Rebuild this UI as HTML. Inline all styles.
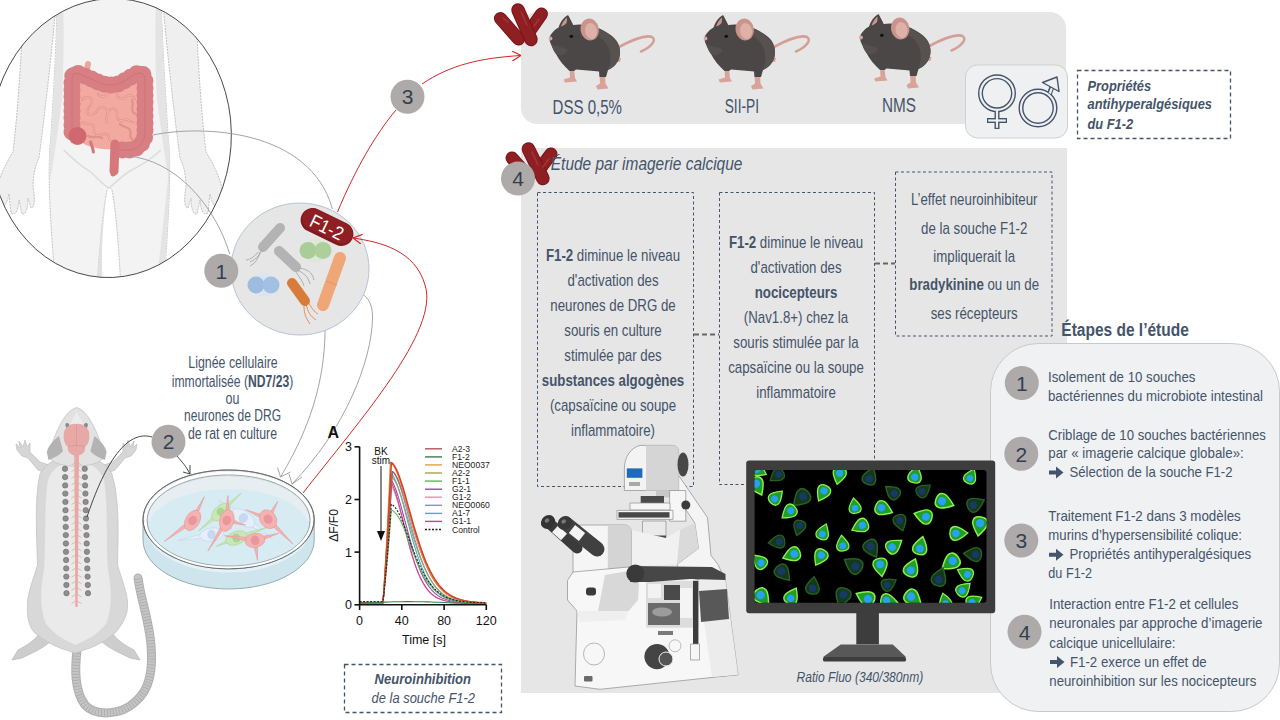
<!DOCTYPE html>
<html><head><meta charset="utf-8">
<style>
html,body{margin:0;padding:0;background:#fff;width:1280px;height:720px;overflow:hidden}
svg{display:block;font-family:"Liberation Sans",sans-serif}
.t{fill:#44546A}
.num{fill:#333F50;font-size:21px;text-anchor:middle}
.ctr{text-anchor:middle}
</style></head><body>
<svg width="1280" height="720" viewBox="0 0 1280 720">
<defs>
<marker id="arR" viewBox="0 0 10 10" refX="9" refY="5" markerWidth="10" markerHeight="10" markerUnits="userSpaceOnUse" orient="auto"><path d="M0,0 L9,5 L0,10" fill="none" stroke="#D42626" stroke-width="1.2"/></marker>
<marker id="arG" viewBox="0 0 10 10" refX="9" refY="5" markerWidth="10" markerHeight="10" markerUnits="userSpaceOnUse" orient="auto"><path d="M0,0 L9,5 L0,10" fill="none" stroke="#8a8a8a" stroke-width="1.2"/></marker>
<marker id="arK" viewBox="0 0 10 10" refX="9" refY="5" markerWidth="10" markerHeight="10" markerUnits="userSpaceOnUse" orient="auto"><path d="M0,0 L9,5 L0,10" fill="none" stroke="#333" stroke-width="1.2"/></marker>
</defs>


<!-- ===== HUMAN ===== -->
<clipPath id="hc"><ellipse cx="110.76" cy="138.06" rx="120.5" ry="139.58" transform="rotate(4 110.76 138.06)"/></clipPath>
<ellipse cx="110.76" cy="138.06" rx="120.5" ry="139.58" transform="rotate(4 110.76 138.06)" fill="#fff"/>
<g clip-path="url(#hc)">
  <!-- left arm -->
  <path d="M23,5 C22,50 18,110 13,152 C8,160 1,172 -3,188 L-1,206 C3,210 7,204 9,194 L11,213 C15,216 18,212 19,200 L22,214 C26,215 28,208 28,198 L31,208 C35,208 35,198 33,186 C33,176 35,166 39,158 C44,120 50,70 56,5 Z" fill="#EFEFEF" stroke="#C2C2C2" stroke-width="1" stroke-dasharray="2,1"/>
  <!-- right arm -->
  <path d="M196,5 C197,50 201,110 206,152 C211,160 218,172 222,188 L220,206 C216,210 212,204 210,194 L208,213 C204,216 201,212 200,200 L197,214 C193,215 191,208 191,198 L188,208 C184,208 184,198 186,186 C186,176 184,166 180,158 C175,120 169,70 163,5 Z" fill="#EFEFEF" stroke="#C2C2C2" stroke-width="1" stroke-dasharray="2,1"/>
  <!-- torso & legs -->
  <path d="M57,-5 C57,40 53,100 51,135 C47,170 50,220 56,290 L97,290 C99,250 103,210 107,190 C108,187 110,187 112,190 C116,210 119,250 121,290 L164,290 C168,220 172,170 168,135 C166,100 162,40 161,-5 Z" fill="#F3F3F3" stroke="#C2C2C2" stroke-width="1" stroke-dasharray="2,1"/>
  <path d="M57,-5 C57,40 53,100 51,135 C49,150 49,165 50,180 C54,160 58,130 62,100 C64,60 64,20 63,-5 Z" fill="#E4E4E4"/>
  <path d="M161,-5 C162,40 166,100 168,135 C170,150 170,165 169,180 C165,160 161,130 157,100 C155,60 155,20 156,-5 Z" fill="#E4E4E4"/>
  <path d="M97,290 C99,250 103,210 107,190 C104,215 100,250 103,290 Z" fill="#E0E0E0"/>
  <path d="M164,290 C168,220 170,190 169,170 C166,200 160,250 156,290 Z" fill="#E4E4E4"/>
  <path d="M63.7,150 C72,158 80,166 88,170 C96,176 102,184 108.7,188" fill="none" stroke="#DCDCDC" stroke-width="1.5"/>
  <path d="M161,150 C150,160 140,166 130,171 C122,176 116,182 109,188" fill="none" stroke="#DCDCDC" stroke-width="1.5"/>
  <!-- intestines -->
  <path d="M86,74 L88,64" stroke="#EFA59D" stroke-width="6" stroke-linecap="round"/>
  <path d="M76,82 C92,86 106,94 118,88 C128,82 134,78 140,80 C142,100 142,120 140,140 C134,148 126,150 116,149 C104,150 92,148 84,144 C76,136 74,118 74,104 C74,96 74,86 76,82 Z" fill="#F2A9A0"/>
  <g fill="none" stroke="#E0928B" stroke-width="2.2" stroke-linecap="round">
    <path d="M82,100 c4,-5 10,-3 10,2 c0,5 -6,6 -5,10 c1,4 8,3 10,-1 c2,-5 8,-5 10,0 c2,5 -3,8 0,11"/>
    <path d="M98,94 c3,4 8,3 10,0 c3,-4 8,-3 9,1 c1,4 6,5 9,2 c3,-3 7,-2 9,2"/>
    <path d="M82,122 c4,4 8,0 11,3 c3,4 -1,8 3,10 c4,2 7,-3 11,-1 c4,3 1,7 5,8"/>
    <path d="M110,110 c4,-3 8,1 7,5 c-1,4 3,7 7,5 c4,-2 6,3 10,2"/>
    <path d="M120,124 c3,4 8,2 10,6 c2,4 -2,7 2,9"/>
    <path d="M132,100 c3,5 -2,8 1,12 c3,4 6,1 7,6"/>
    <path d="M88,136 c5,3 10,-1 14,2"/>
  </g>
  <g fill="none" stroke="#F6BDB5" stroke-width="0.8" stroke-linecap="round">
    <path d="M82,100 c4,-5 10,-3 10,2 c0,5 -6,6 -5,10 c1,4 8,3 10,-1 c2,-5 8,-5 10,0 c2,5 -3,8 0,11"/>
    <path d="M98,94 c3,4 8,3 10,0 c3,-4 8,-3 9,1 c1,4 6,5 9,2 c3,-3 7,-2 9,2"/>
    <path d="M82,122 c4,4 8,0 11,3 c3,4 -1,8 3,10 c4,2 7,-3 11,-1 c4,3 1,7 5,8"/>
    <path d="M110,110 c4,-3 8,1 7,5 c-1,4 3,7 7,5 c4,-2 6,3 10,2"/>
  </g>
  <g fill="none" stroke-linecap="round">
    <path d="M72,132 L72,82 C72,74 74,72 80,74 C95,80 105,88 118,84 C128,80 136,72 141,73 C145,75 145,80 145,86 L145,136 C142,146 136,150 128,150 L118,150" stroke="#D87F83" stroke-width="14"/>
    <path d="M72,132 L72,82 C72,74 74,72 80,74 C95,80 105,88 118,84 C128,80 136,72 141,73 C145,75 145,80 145,86 L145,136 C142,146 136,150 128,150 L118,150" stroke="#D87F83" stroke-width="17" stroke-dasharray="0,7"/>
    <path d="M72,132 L72,82 C72,74 74,72 80,74 C95,80 105,88 118,84 C128,80 136,72 141,73 C145,75 145,80 145,86 L145,136 C142,146 136,150 128,150 L118,150" stroke="#C96A70" stroke-width="1" opacity="0.6"/>
  </g>
  <circle cx="77.5" cy="136" r="9" fill="#D0696F"/>
  <path d="M115,144 L114,171" stroke="#D6777C" stroke-width="9" stroke-linecap="round"/>
  <path d="M114,168 L113,174" stroke="#D6777C" stroke-width="5" stroke-linecap="round"/>
  <path d="M90.6,142 C92,146 93,149 93.4,152" fill="none" stroke="#D6777C" stroke-width="3" stroke-linecap="round"/>
</g>
<ellipse cx="110.76" cy="138.06" rx="120.5" ry="139.58" transform="rotate(4 110.76 138.06)" fill="none" stroke="#3A3A3A" stroke-width="0.9"/>

<!-- gray connector curves -->
<g fill="none" stroke="#9A9A9A" stroke-width="0.9">
  <path d="M153,135 C200,125 310,128 332.4,209"/>
  <path d="M128,156 C175,160 215,205 229.7,254"/>
  <path d="M325,322 C326,370 315,420 280.5,477"/>
  <path d="M337,289 C360,288 373,296 372.5,318 C372,360 345,430 292,484"/>
  <path d="M277.5,467.5 L280.5,477 L290.5,472"/>
  <path d="M289,474 L292,484 L302,477"/>
</g>

<!-- ===== BACTERIA CIRCLE ===== -->
<ellipse cx="300" cy="269" rx="69" ry="66" fill="#E6E6E6" stroke="#B7C3D6" stroke-width="1"/>
<g stroke-linecap="round">
  <line x1="280" y1="228" x2="263" y2="247" stroke="#B3B3B3" stroke-width="10"/>
  <line x1="279" y1="251" x2="296" y2="267" stroke="#B3B3B3" stroke-width="10"/>
  <line x1="292" y1="283" x2="305" y2="301" stroke="#D97B3A" stroke-width="10"/>
  <line x1="340" y1="258" x2="323" y2="305" stroke="#EFA777" stroke-width="12"/>
  <line x1="326" y1="281" x2="337" y2="285" stroke="#E0956A" stroke-width="1" stroke-linecap="butt"/>
</g>
<g fill="none" stroke="#A0A0A0" stroke-width="0.8">
  <path d="M262,250 c-4,8 -8,10 -12,12 M260,252 c-2,8 -6,12 -10,14 M258,252 c-4,6 -10,8 -12,8"/>
  <path d="M298,270 c6,4 10,6 12,14 M300,268 c8,2 12,4 14,12 M296,272 c4,6 6,8 8,14"/>
</g>
<g fill="none" stroke="#D97B3A" stroke-width="0.8">
  <path d="M306,304 c2,8 4,12 10,16 M304,306 c0,8 2,12 6,18 M308,302 c4,6 6,10 10,12"/>
</g>
<circle cx="315.5" cy="250.5" r="12" fill="#DDE9D6"/><circle cx="308" cy="250.5" r="8.5" fill="#A9CC98"/><circle cx="323" cy="250.5" r="8.5" fill="#ADCF9C"/>
<circle cx="263.5" cy="285" r="12" fill="#DCE5EF"/><circle cx="256" cy="285" r="8.5" fill="#9DBCE0"/><circle cx="271" cy="285" r="8.5" fill="#A2C0E2"/>
<g transform="rotate(26 327 227)">
  <rect x="299" y="215" width="56" height="24" rx="12" fill="#7E1A1C"/>
  <rect x="300" y="215.5" width="54" height="21" rx="10.5" fill="#8E1F22"/>
  <text x="327" y="234" fill="#fff" font-size="19" text-anchor="middle" textLength="35" lengthAdjust="spacingAndGlyphs">F1-2</text>
</g>

<!-- red arrows -->
<path d="M337.5,212 C355,170 375,135 396,110" fill="none" stroke="#D42626" stroke-width="1"/>
<path d="M422,84 C450,65 480,58 521,55.5" fill="none" stroke="#D42626" stroke-width="1" marker-end="url(#arR)"/>
<path d="M303,493 C360,420 440,330 425,285 C415,250 380,242 353,238" fill="none" stroke="#D42626" stroke-width="1" marker-end="url(#arR)"/>

<!-- ===== RAT ===== -->
<g>
  <!-- tail -->
  <path d="M77,650 C75,668 74,690 85,705 C95,716 120,716 135,702 C150,690 153,670 151,645 C149,620 141,600 138,578" fill="none" stroke="#AFAFAF" stroke-width="9" stroke-linecap="round"/>
  <path d="M77,650 C75,668 74,690 85,705 C95,716 120,716 135,702 C150,690 153,670 151,645 C149,620 141,600 138,578" fill="none" stroke="#C4C4C4" stroke-width="7" stroke-linecap="round"/>
  <path d="M77,650 C75,668 74,690 85,705 C95,716 120,716 135,702 C150,690 153,670 151,645 C149,620 141,600 138,578" fill="none" stroke="#A8A8A8" stroke-width="7" stroke-dasharray="0.7,2.3"/>
  <!-- hind legs -->
  <path d="M42,630 C36,640 26,646 18,650 L12,660 L22,658 L26,656 C34,652 44,648 52,640 Z" fill="#CDCDCD" stroke="#BBBBBB" stroke-width="0.8"/>
  <path d="M110,630 C116,640 126,646 134,650 L140,660 L130,658 L126,656 C118,652 108,648 100,640 Z" fill="#CDCDCD" stroke="#BBBBBB" stroke-width="0.8"/>
  <!-- arms -->
  <path d="M48,474 L38,470 L28,458 L22,456 L17,450 L16,444 L20,448 L19,441 L23,447 L25,440 L27,447 L30,443 L30,452 L40,462 L52,466 Z" fill="#D6D6D6" stroke="#BFBFBF" stroke-width="0.7"/>
  <path d="M105,474 L115,470 L125,458 L131,456 L136,450 L137,444 L133,448 L134,441 L130,447 L128,440 L126,447 L123,443 L123,452 L113,462 L101,466 Z" fill="#D6D6D6" stroke="#BFBFBF" stroke-width="0.7"/>
  <!-- body -->
  <path d="M76,456 C60,456 46,462 40,474 C34,500 37,540 37.5,565 C33,580 27,595 27.5,605 C27,615 28,625 34,632 C40,638 50,644 60,648 L75,653 L90,648 C100,644 110,638 116,632 C122,625 128,615 127.5,605 C128,595 122,580 117.5,565 C118,540 120,500 112,474 C106,462 92,456 76,456 Z" fill="#D8D8D8" stroke="#C4C4C4" stroke-width="0.8"/>
  <path d="M76,462 C62,462 52,468 48,480 C44,505 46,545 44,570 C40,590 40,610 46,624 C54,634 64,640 75.5,645 C87,640 98,634 106,624 C112,610 112,590 108,570 C106,545 108,505 104,480 C100,468 90,462 76,462 Z" fill="#EAEAEA"/>
  <!-- head -->
  <path d="M76.7,407.6 C70,409 64,417 59,427 C54,437 50,448 50,458 C56,469 96,469 103,458 C103,448 99,437 94,427 C89,417 83,409 76.7,407.6 Z" fill="#E2E2E2" stroke="#C4C4C4" stroke-width="0.8"/>
  <path d="M76.7,412 C73,418 68,428 66,438 C70,446 84,446 88,438 C86,428 80,418 76.7,412 Z" fill="#ECECEC"/>
  <path d="M59,436 C54,440 48,446 46.8,452 L48.5,460 C54,458 60,455 63,451 Z" fill="#B3B3B3"/>
  <path d="M94.4,436 C99.4,440 105.4,446 106.6,452 L104.9,460 C99.4,458 93.4,455 90.4,451 Z" fill="#B3B3B3"/>
  <ellipse cx="67.6" cy="425.7" rx="2" ry="2.8" fill="#8A8A8A" transform="rotate(-20 67.6 425.7)"/>
  <ellipse cx="85.7" cy="425.7" rx="2" ry="2.8" fill="#8A8A8A" transform="rotate(20 85.7 425.7)"/>
  <!-- brain -->
  <path d="M76.5,424 C72,423 66,426 64,432 C63,438 64,444 68,447 C67,451 70,455 76.5,456 C83,455 86,451 85,447 C89,444 90,438 89,432 C87,426 81,423 76.5,424 Z" fill="#E6A9A5"/>
  <path d="M76.5,425 L76.5,446 M68,447 C72,445 81,445 85,447" fill="none" stroke="#D7918E" stroke-width="0.6"/>
  <!-- spinal cord -->
  <path d="M74.2,455 L79,455 L78.6,500 L77.6,607 L75.4,607 L74.6,500 Z" fill="#E6A9A5"/>
  <path d="M76.5,462.0 l-5,3 M76.5,462.0 l5,3 M76.5,468.6 l-5,3 M76.5,468.6 l5,3 M76.5,475.2 l-5,3 M76.5,475.2 l5,3 M76.5,481.8 l-5,3 M76.5,481.8 l5,3 M76.5,488.4 l-5,3 M76.5,488.4 l5,3 M76.5,495.0 l-5,3 M76.5,495.0 l5,3 M76.5,501.6 l-5,3 M76.5,501.6 l5,3 M76.5,508.2 l-5,3 M76.5,508.2 l5,3 M76.5,514.8 l-5,3 M76.5,514.8 l5,3 M76.5,521.4 l-5,3 M76.5,521.4 l5,3 M76.5,528.0 l-5,3 M76.5,528.0 l5,3 M76.5,534.6 l-5,3 M76.5,534.6 l5,3 M76.5,541.2 l-5,3 M76.5,541.2 l5,3 M76.5,547.8 l-5,3 M76.5,547.8 l5,3 M76.5,554.4 l-5,3 M76.5,554.4 l5,3 M76.5,561.0 l-5,3 M76.5,561.0 l5,3 M76.5,567.6 l-5,3 M76.5,567.6 l5,3 M76.5,574.2 l-5,3 M76.5,574.2 l5,3 M76.5,580.8 l-5,3 M76.5,580.8 l5,3 M76.5,587.4 l-5,3 M76.5,587.4 l5,3 M76.5,594.0 l-5,3 M76.5,594.0 l5,3 M76.5,600.6 l-5,3 M76.5,600.6 l5,3" stroke="#E6A9A5" stroke-width="0.8"/>
  <!-- DRG dots -->
  <g fill="#8E8E8E" stroke="#6A6A6A" stroke-width="0.6">
    <circle cx="65.0" cy="468.8" r="2.7"/><circle cx="84.7" cy="468.8" r="2.7"/><circle cx="65.1" cy="477.1" r="2.7"/><circle cx="84.9" cy="477.1" r="2.7"/><circle cx="65.2" cy="485.4" r="2.7"/><circle cx="85.1" cy="485.4" r="2.7"/><circle cx="65.3" cy="493.6" r="2.7"/><circle cx="85.4" cy="493.6" r="2.7"/><circle cx="65.4" cy="501.9" r="2.7"/><circle cx="85.6" cy="501.9" r="2.7"/><circle cx="65.5" cy="510.2" r="2.7"/><circle cx="85.8" cy="510.2" r="2.7"/><circle cx="65.6" cy="518.5" r="2.7"/><circle cx="86.0" cy="518.5" r="2.7"/><circle cx="65.7" cy="526.9" r="2.7"/><circle cx="86.2" cy="526.9" r="2.7"/><circle cx="65.8" cy="535.1" r="2.7"/><circle cx="86.5" cy="535.1" r="2.7"/><circle cx="65.9" cy="543.5" r="2.7"/><circle cx="86.7" cy="543.5" r="2.7"/><circle cx="66.0" cy="551.8" r="2.7"/><circle cx="86.9" cy="551.8" r="2.7"/><circle cx="66.1" cy="560.0" r="2.7"/><circle cx="87.1" cy="560.0" r="2.7"/><circle cx="66.2" cy="568.4" r="2.7"/><circle cx="87.3" cy="568.4" r="2.7"/><circle cx="66.3" cy="576.6" r="2.7"/><circle cx="87.6" cy="576.6" r="2.7"/><circle cx="66.4" cy="585.0" r="2.7"/><circle cx="87.8" cy="585.0" r="2.7"/><circle cx="66.5" cy="593.2" r="2.7"/><circle cx="88.0" cy="593.2" r="2.7"/>
  </g>
  <!-- connector to petri -->
  <path d="M87,517 C100,478 122,428 152,437" fill="none" stroke="#333" stroke-width="0.9"/>
  <path d="M177,456 C182,462 186,466 190,474" fill="none" stroke="#333" stroke-width="0.9"/>
  <path d="M183,472 L190,474 L190,465" fill="none" stroke="#333" stroke-width="0.9"/>
</g>

<!-- ===== PETRI ===== -->
<g>
  <path d="M143,519.4 L143,540 A85.6,49 0 0 0 314.2,540 L314.2,519.4 Z" fill="#CFE5EE" stroke="#8FA3AC" stroke-width="0.9"/>
  <path d="M147,530 A82,46 0 0 0 310,530" fill="none" stroke="#E4F1F6" stroke-width="3"/>
  <ellipse cx="228.6" cy="519.4" rx="85.6" ry="49.4" fill="#E9F1F4" stroke="#777" stroke-width="0.9"/>
  <ellipse cx="228.6" cy="521.5" rx="81.5" ry="45" fill="#D3E9F1" stroke="#9CC7D6" stroke-width="1"/>
  <path d="M147,521 A81.5,45 0 0 1 310,521" fill="#E6EEF1"/>
  <ellipse cx="228.6" cy="528" rx="80" ry="39" fill="#D6EBF2"/>
  <path d="M149,530 A79,38 0 0 0 308,530" fill="none" stroke="#A9D2E0" stroke-width="1"/>
  <path d="M245.1,515.6 L218.5,500.0 L241.5,520.4 Z M241.6,520.5 L271.7,538.0 L245.0,515.5 Z" fill="#E6EFF9" stroke="#B9CFEA" stroke-width="0.5"/>
<ellipse cx="243.3" cy="518" rx="13" ry="7" transform="rotate(35 243.3 518)" fill="#E6EFF9" stroke="#B9CFEA" stroke-width="0.5"/>
<ellipse cx="243.3" cy="518" rx="4.5" ry="5.2" transform="rotate(35 243.3 518)" fill="#C5DAF2"/>
<path d="M211.0,531.5 L178.4,540.4 L212.0,537.5 Z M212.4,537.4 L232.0,528.0 L210.6,531.6 Z" fill="#E6EFF9" stroke="#B9CFEA" stroke-width="0.5"/>
<ellipse cx="211.5" cy="534.5" rx="12" ry="6.5" transform="rotate(-10 211.5 534.5)" fill="#E6EFF9" stroke="#B9CFEA" stroke-width="0.5"/>
<ellipse cx="211.5" cy="534.5" rx="4.2" ry="4.8" transform="rotate(-10 211.5 534.5)" fill="#C5DAF2"/>
<path d="M222.4,513.7 L241.0,493.2 L219.4,510.5 Z M219.5,510.4 L198.5,531.0 L222.3,513.8 Z" fill="#CBE6B8" stroke="#A5D08A" stroke-width="0.5"/>
<ellipse cx="220.9" cy="512.1" rx="11" ry="6.5" transform="rotate(-42 220.9 512.1)" fill="#CBE6B8" stroke="#A5D08A" stroke-width="0.5"/>
<ellipse cx="220.9" cy="512.1" rx="4" ry="4.6" transform="rotate(-42 220.9 512.1)" fill="#A9D591"/>
<path d="M237.0,540.1 L267.0,527.4 L235.6,535.9 Z M235.5,536.0 L216.2,546.3 L237.1,540.0 Z" fill="#CBE6B8" stroke="#A5D08A" stroke-width="0.5"/>
<ellipse cx="236.3" cy="538" rx="11" ry="6.5" transform="rotate(-20 236.3 538)" fill="#CBE6B8" stroke="#A5D08A" stroke-width="0.5"/>
<ellipse cx="236.3" cy="538" rx="4" ry="4.6" transform="rotate(-20 236.3 538)" fill="#A9D591"/>
<path d="M191.2,518.5 L164.2,541.6 L194.0,522.3 Z M194.7,521.5 L204.4,496.7 L190.5,519.3 Z" fill="#F4B3B1" stroke="#E39194" stroke-width="0.5"/>
<ellipse cx="192.6" cy="520.4" rx="7" ry="11" transform="rotate(30 192.6 520.4)" fill="#F4B3B1" stroke="#E39194" stroke-width="0.5"/>
<ellipse cx="192.6" cy="520.4" rx="4.3" ry="4.9" transform="rotate(30 192.6 520.4)" fill="#E8989C"/>
<path d="M229.2,520.5 L228.0,495.6 L224.4,520.3 Z M224.8,519.1 L207.9,551.0 L228.8,521.7 Z M226.2,522.7 L245.7,525.0 L227.4,518.1 Z" fill="#F4B3B1" stroke="#E39194" stroke-width="0.5"/>
<ellipse cx="226.8" cy="520.4" rx="7" ry="11" transform="rotate(15 226.8 520.4)" fill="#F4B3B1" stroke="#E39194" stroke-width="0.5"/>
<ellipse cx="226.8" cy="520.4" rx="4.3" ry="4.9" transform="rotate(15 226.8 520.4)" fill="#E8989C"/>
<path d="M270.2,520.3 L277.6,501.5 L266.0,518.1 Z M266.4,520.9 L292.9,544.0 L269.8,517.5 Z M269.0,517.0 L245.7,509.7 L267.2,521.4 Z" fill="#F4B3B1" stroke="#E39194" stroke-width="0.5"/>
<ellipse cx="268.1" cy="519.2" rx="8" ry="10" transform="rotate(-35 268.1 519.2)" fill="#F4B3B1" stroke="#E39194" stroke-width="0.5"/>
<ellipse cx="268.1" cy="519.2" rx="4.3" ry="4.9" transform="rotate(-35 268.1 519.2)" fill="#E8989C"/>
<path d="M252.7,540.7 L257.5,560.5 L257.5,540.1 Z M255.8,542.7 L278.8,533.3 L254.4,538.1 Z M255.5,538.0 L224.5,535.7 L254.7,542.8 Z" fill="#F4B3B1" stroke="#E39194" stroke-width="0.5"/>
<ellipse cx="255.1" cy="540.4" rx="10" ry="7" transform="rotate(-10 255.1 540.4)" fill="#F4B3B1" stroke="#E39194" stroke-width="0.5"/>
<ellipse cx="255.1" cy="540.4" rx="4.3" ry="4.9" transform="rotate(-10 255.1 540.4)" fill="#E8989C"/>
  <ellipse cx="228.6" cy="519.4" rx="85.6" ry="49.4" fill="none" stroke="#666" stroke-width="0.9"/>
  <ellipse cx="228.6" cy="520" rx="83" ry="47" fill="none" stroke="#fff" stroke-width="2.5"/>
  <ellipse cx="228.6" cy="520.5" rx="81.5" ry="45.5" fill="none" stroke="#888" stroke-width="0.7"/>
</g>

<!-- gray panels -->
<rect x="521" y="12" width="545" height="112" rx="16" fill="#E7E6E6"/>
<rect x="521" y="148" width="546" height="545" fill="#E7E6E6"/>

<!-- ===== MICE ===== -->
<defs>
<g id="mouse">
  <path d="M79,37 C90,31 104,24 112,27 C117,30 111,37 101,41.5" fill="none" stroke="#D3A097" stroke-width="2.6" stroke-linecap="round"/>
  <path d="M73,47 L81,48 L80,52 L71,51 Z" fill="#D9A39A"/>
  <path d="M29.5,59 L34,59 L35,68 L37,71.5 L25,72.5 L23.5,69.5 L30,67.5 Z" fill="#D9A39A"/>
  <path d="M59.5,64 L65,64 L65.5,73.5 L68.5,78.5 L57.5,79.5 L56,76 L60,73.5 Z" fill="#D9A39A"/>
  <path d="M9.2,28.3 C11,23 15,19 20,17 L27,6 C30,9 32,12 33,15 C45,13 58,17 66,22 C75,27 80,33 80,42 C80,50 76,56 68,60 L66,67 L59.5,67 L59,61.5 C52,61 44,60 36,59.5 L34,61 L29.5,61 C24,56 19,50 16,44 C13,39 10,34 9.2,28.3 Z" fill="#4B4746"/>
  <path d="M40,16 C52,15 62,19 68,24 C76,30 80,36 80,42 C80,50 76,56 68,60 C72,50 71,38 64,31 C58,25 50,20 40,16 Z" fill="#57524F"/>
  <path d="M12,34 C18,38 24,36 28,40 C24,46 20,46 16,44 C13,40 12,37 12,34 Z" fill="#555050"/>
  <path d="M28,5 C24,7 20,12 18.5,18 C23,18 28,17 33,15 C31,11 30,8 28,5 Z" fill="#4B4746"/><path d="M27,7.5 C24.5,9.5 22,13 21,16.5 C23,16 25,15 26.5,13 C27,11 27.2,9 27,7.5 Z" fill="#C9948C"/>
  <ellipse cx="49.7" cy="19.5" rx="9.2" ry="11" fill="#C9948C" transform="rotate(-10 49.7 19.5)"/>
  <ellipse cx="51" cy="21" rx="6" ry="8" fill="#DDB0A8" transform="rotate(-10 51 21)"/>
  <ellipse cx="31.3" cy="26.3" rx="1.8" ry="1.6" fill="#111"/>
  <circle cx="10.5" cy="28.5" r="1.9" fill="#D9A39A"/>
</g>
</defs>
<use href="#mouse" transform="translate(540,10)"/>
<use href="#mouse" transform="translate(695,10)"/>
<use href="#mouse" transform="translate(850.5,9)"/>

<!-- ===== RED BACTERIA ===== -->
<g stroke-linecap="round">
  <line x1="541.5" y1="14" x2="531" y2="29" stroke="#7A1518" stroke-width="13"/>
  <line x1="541.5" y1="14" x2="531" y2="29" stroke="#8E1F22" stroke-width="11"/>
  <line x1="500.5" y1="18.5" x2="518.5" y2="39" stroke="#7A1518" stroke-width="13"/>
  <line x1="500.5" y1="18.5" x2="518.5" y2="39" stroke="#8E1F22" stroke-width="11"/>
  <line x1="518" y1="10" x2="531" y2="39.5" stroke="#7A1518" stroke-width="13.5"/>
  <line x1="518" y1="10" x2="531" y2="39.5" stroke="#8E1F22" stroke-width="11.5"/>
</g>
<g stroke-linecap="round" stroke="#A53538" stroke-width="1.5">
  <line x1="521" y1="12" x2="527" y2="25"/>
  <line x1="539" y1="19" x2="534" y2="26"/>
  <line x1="503" y1="18" x2="508" y2="22"/>
</g>
<g stroke-linecap="round">
  <line x1="551" y1="154" x2="539" y2="170" stroke="#7A1518" stroke-width="13"/>
  <line x1="551" y1="154" x2="539" y2="170" stroke="#8E1F22" stroke-width="11"/>
  <line x1="512" y1="158" x2="528" y2="176" stroke="#7A1518" stroke-width="13"/>
  <line x1="512" y1="158" x2="528" y2="176" stroke="#8E1F22" stroke-width="11"/>
  <line x1="528.4" y1="149" x2="542.9" y2="178.5" stroke="#7A1518" stroke-width="13.5"/>
  <line x1="528.4" y1="149" x2="542.9" y2="178.5" stroke="#8E1F22" stroke-width="11.5"/>
</g>
<g stroke-linecap="round" stroke="#A53538" stroke-width="1.5">
  <line x1="532" y1="152" x2="538" y2="165"/>
  <line x1="549" y1="159" x2="543" y2="167"/>
</g>

<!-- gender box -->
<rect x="965.5" y="65" width="102" height="73" rx="12" fill="#EFF0F2" stroke="#CFCFCF" stroke-width="1"/>

<!-- ===== GENDER ===== -->
<g fill="none" stroke-linecap="butt">
  <g stroke="#44546A" stroke-width="5">
    <circle cx="997" cy="93.3" r="16.5"/>
    <line x1="997" y1="110" x2="997" y2="129"/>
    <line x1="987" y1="120.5" x2="1007" y2="120.5"/>
    <circle cx="1038" cy="108" r="17"/>
    <line x1="1049" y1="95" x2="1053" y2="84"/>
  </g>
  <g stroke="#EFF0F2" stroke-width="2.2">
    <circle cx="997" cy="93.3" r="16.5"/>
    <line x1="997" y1="110.5" x2="997" y2="127.8"/>
    <line x1="988.2" y1="120.5" x2="1005.8" y2="120.5"/>
    <circle cx="1038" cy="108" r="17"/>
    <line x1="1049.8" y1="93.5" x2="1053" y2="85"/>
  </g>
  <path d="M1042.5,82.5 L1057,77 L1059,91.5 Z" fill="#EFF0F2" stroke="#44546A" stroke-width="1.4" stroke-linejoin="round"/>
</g>

<g fill="none" stroke-width="1.1" stroke-linejoin="round">
<path d="M359.6,602.7 L361.7,602.7 L363.8,602.7 L365.9,602.7 L368.0,602.7 L370.2,602.7 L372.3,602.7 L374.4,602.7 L376.5,602.7 L378.6,602.7 L380.7,602.7 L381.8,602.7 L382.8,602.7 L383.9,593.4 L384.9,581.4 L386.0,568.0 L387.1,553.7 L388.1,538.7 L389.2,523.0 L390.2,506.9 L391.3,490.2 L392.3,471.6 L393.4,472.2 L394.4,473.6 L395.5,475.4 L397.6,479.9 L399.7,485.6 L401.8,492.2 L403.9,499.4 L406.1,507.1 L408.2,515.0 L410.3,522.9 L412.4,530.7 L414.5,538.1 L416.6,545.2 L418.7,551.8 L420.8,558.0 L423.0,563.6 L425.1,568.7 L427.2,573.3 L429.3,577.4 L431.4,581.1 L433.5,584.3 L435.6,587.1 L437.7,589.5 L439.8,591.7 L442.0,593.5 L444.1,595.1 L446.2,596.4 L448.3,597.5 L450.4,598.5 L452.5,599.3 L454.6,600.0 L456.7,600.5 L458.8,601.0 L461.0,601.4 L463.1,601.7 L465.2,601.9 L467.3,602.2 L469.4,602.3 L471.5,602.5 L473.6,602.6 L475.7,602.7 L477.9,602.8 L480.0,602.8 L482.1,602.9 L484.2,602.9 L486.3,603.0" stroke="#8C8CD8"/>
<path d="M359.6,603.2 L361.7,603.2 L363.8,603.2 L365.9,603.2 L368.0,603.2 L370.2,603.2 L372.3,603.2 L374.4,603.2 L376.5,603.2 L378.6,603.2 L380.7,603.2 L381.8,603.2 L382.8,603.2 L383.9,591.4 L384.9,576.0 L386.0,559.0 L387.1,540.8 L388.1,521.6 L389.2,501.7 L390.2,479.5 L391.3,480.2 L392.3,481.7 L393.4,483.6 L395.5,488.6 L397.6,494.6 L399.7,501.6 L401.8,509.1 L403.9,517.1 L406.1,525.1 L408.2,533.1 L410.3,540.8 L412.4,548.1 L414.5,554.9 L416.6,561.1 L418.7,566.8 L420.8,571.9 L423.0,576.4 L425.1,580.4 L427.2,583.9 L429.3,587.0 L431.4,589.6 L433.5,591.9 L435.6,593.8 L437.7,595.4 L439.8,596.8 L442.0,597.9 L444.1,598.8 L446.2,599.6 L448.3,600.3 L450.4,600.8 L452.5,601.2 L454.6,601.6 L456.7,601.9 L458.8,602.1 L461.0,602.3 L463.1,602.4 L465.2,602.6 L467.3,602.7 L469.4,602.7 L471.5,602.8 L473.6,602.9 L475.7,602.9 L477.9,602.9 L480.0,603.0 L482.1,603.0 L484.2,603.0 L486.3,603.0" stroke="#8A4FB0"/>
<path d="M359.6,603.2 L361.7,603.2 L363.8,603.2 L365.9,603.2 L368.0,603.2 L370.2,603.2 L372.3,603.2 L374.4,603.2 L376.5,603.2 L378.6,603.2 L380.7,603.2 L381.8,603.2 L382.8,603.2 L383.9,591.9 L384.9,577.2 L386.0,560.9 L387.1,543.5 L388.1,525.1 L389.2,506.0 L390.2,484.7 L391.3,485.6 L392.3,487.2 L393.4,489.4 L395.5,494.9 L397.6,501.6 L399.7,509.2 L401.8,517.3 L403.9,525.7 L406.1,534.0 L408.2,542.1 L410.3,549.8 L412.4,556.9 L414.5,563.4 L416.6,569.3 L418.7,574.5 L420.8,579.1 L423.0,583.0 L425.1,586.4 L427.2,589.4 L429.3,591.8 L431.4,593.9 L433.5,595.6 L435.6,597.0 L437.7,598.2 L439.8,599.1 L442.0,599.9 L444.1,600.5 L446.2,601.0 L448.3,601.4 L450.4,601.7 L452.5,602.0 L454.6,602.2 L456.7,602.4 L458.8,602.5 L461.0,602.6 L463.1,602.7 L465.2,602.7 L467.3,602.8 L469.4,602.8 L471.5,602.9 L473.6,602.9 L475.7,603.0 L477.9,603.0 L480.0,603.0 L482.1,603.0 L484.2,603.0 L486.3,603.1" stroke="#F08CB4"/>
<path d="M359.6,603.2 L361.7,603.2 L363.8,603.2 L365.9,603.2 L368.0,603.2 L370.2,603.2 L372.3,603.2 L374.4,603.2 L376.5,603.2 L378.6,603.2 L380.7,603.2 L381.8,603.2 L382.8,603.2 L383.9,591.6 L384.9,576.6 L386.0,560.0 L387.1,542.1 L388.1,523.4 L389.2,503.9 L390.2,482.1 L391.3,483.0 L392.3,484.6 L393.4,486.9 L395.5,492.5 L397.6,499.4 L399.7,507.2 L401.8,515.5 L403.9,524.0 L406.1,532.5 L408.2,540.8 L410.3,548.7 L412.4,556.0 L414.5,562.6 L416.6,568.6 L418.7,573.9 L420.8,578.6 L423.0,582.6 L425.1,586.1 L427.2,589.1 L429.3,591.6 L431.4,593.7 L433.5,595.4 L435.6,596.9 L437.7,598.1 L439.8,599.0 L442.0,599.8 L444.1,600.5 L446.2,601.0 L448.3,601.4 L450.4,601.7 L452.5,602.0 L454.6,602.2 L456.7,602.3 L458.8,602.5 L461.0,602.6 L463.1,602.7 L465.2,602.7 L467.3,602.8 L469.4,602.8 L471.5,602.9 L473.6,602.9 L475.7,603.0 L477.9,603.0 L480.0,603.0 L482.1,603.0 L484.2,603.0 L486.3,603.1" stroke="#D0408C"/>
<path d="M359.6,603.2 L361.7,603.2 L363.8,603.2 L365.9,603.2 L368.0,603.2 L370.2,603.2 L372.3,603.2 L374.4,603.2 L376.5,603.2 L378.6,603.2 L380.7,603.2 L381.8,603.2 L382.8,603.2 L383.9,592.7 L384.9,579.1 L386.0,563.9 L387.1,547.7 L388.1,530.7 L389.2,513.0 L390.2,494.6 L391.3,474.2 L392.3,474.9 L393.4,476.3 L394.4,478.2 L396.6,483.0 L398.7,489.0 L400.8,495.8 L402.9,503.2 L405.0,511.1 L407.1,519.2 L409.2,527.2 L411.3,535.1 L413.4,542.5 L415.6,549.5 L417.7,556.1 L419.8,562.0 L421.9,567.5 L424.0,572.3 L426.1,576.7 L428.2,580.6 L430.3,583.9 L432.5,586.9 L434.6,589.5 L436.7,591.7 L438.8,593.6 L440.9,595.2 L443.0,596.5 L445.1,597.7 L447.2,598.6 L449.3,599.4 L451.5,600.1 L453.6,600.6 L455.7,601.1 L457.8,601.5 L459.9,601.8 L462.0,602.0 L464.1,602.2 L466.2,602.4 L468.4,602.5 L470.5,602.6 L472.6,602.7 L474.7,602.8 L476.8,602.8 L478.9,602.9 L481.0,602.9 L483.1,603.0 L485.2,603.0" stroke="#3CB4C8"/>
<path d="M359.6,603.2 L361.7,603.2 L363.8,603.2 L365.9,603.2 L368.0,603.2 L370.2,603.2 L372.3,603.2 L374.4,603.2 L376.5,603.2 L378.6,603.2 L380.7,603.2 L381.8,603.2 L382.8,603.2 L383.9,592.9 L384.9,579.6 L386.0,564.8 L387.1,548.9 L388.1,532.2 L389.2,514.8 L390.2,496.9 L391.3,476.8 L392.3,477.4 L393.4,478.6 L394.4,480.2 L396.6,484.3 L398.7,489.3 L400.8,495.2 L402.9,501.8 L405.0,508.8 L407.1,516.1 L409.2,523.5 L411.3,530.7 L413.4,537.7 L415.6,544.4 L417.7,550.8 L419.8,556.7 L421.9,562.1 L424.0,567.1 L426.1,571.6 L428.2,575.7 L430.3,579.4 L432.5,582.7 L434.6,585.6 L436.7,588.1 L438.8,590.3 L440.9,592.3 L443.0,594.0 L445.1,595.4 L447.2,596.6 L449.3,597.7 L451.5,598.6 L453.6,599.4 L455.7,600.0 L457.8,600.5 L459.9,601.0 L462.0,601.4 L464.1,601.7 L466.2,601.9 L468.4,602.1 L470.5,602.3 L472.6,602.5 L474.7,602.6 L476.8,602.7 L478.9,602.8 L481.0,602.8 L483.1,602.9 L485.2,602.9" stroke="#A8A052"/>
<path d="M359.6,602.2 L361.7,602.2 L363.8,602.2 L365.9,602.2 L368.0,602.2 L370.2,602.2 L372.3,602.2 L374.4,602.2 L376.5,602.2 L378.6,602.2 L380.7,602.2 L381.8,602.2 L382.8,602.2 L383.9,594.7 L384.9,585.0 L386.0,574.2 L387.1,562.7 L388.1,550.6 L389.2,538.0 L390.2,525.0 L391.3,510.0 L392.3,510.4 L393.4,511.1 L394.4,512.0 L396.6,514.4 L398.7,517.4 L400.8,521.2 L402.9,525.8 L405.0,530.9 L407.1,536.5 L409.2,542.2 L411.3,547.9 L413.4,553.4 L415.6,558.7 L417.7,563.7 L419.8,568.2 L421.9,572.4 L424.0,576.3 L426.1,579.7 L428.2,582.8 L430.3,585.5 L432.5,588.0 L434.6,590.1 L436.7,592.0 L438.8,593.6 L440.9,595.0 L443.0,596.2 L445.1,597.3 L447.2,598.2 L449.3,598.9 L451.5,599.5 L453.6,600.1 L455.7,600.5 L457.8,600.9 L459.9,601.3 L462.0,601.5 L464.1,601.8 L466.2,602.0 L468.4,602.1 L470.5,602.3 L472.6,602.4 L474.7,602.5 L476.8,602.6 L478.9,602.6 L481.0,602.7 L483.1,602.7 L485.2,602.8" stroke="#5CB85C"/>
<path d="M359.6,602.7 L361.7,602.7 L363.8,602.7 L365.9,602.7 L368.0,602.7 L370.2,602.7 L372.3,602.7 L374.4,602.7 L376.5,602.7 L378.6,602.7 L380.7,602.7 L381.8,602.7 L382.8,602.7 L383.9,593.4 L384.9,581.4 L386.0,568.0 L387.1,553.7 L388.1,538.7 L389.2,523.0 L390.2,506.9 L391.3,490.2 L392.3,471.6 L393.4,472.2 L394.4,473.3 L395.5,474.9 L397.6,478.8 L399.7,483.8 L401.8,489.6 L403.9,496.1 L406.1,503.1 L408.2,510.4 L410.3,517.8 L412.4,525.1 L414.5,532.3 L416.6,539.1 L418.7,545.7 L420.8,551.8 L423.0,557.5 L425.1,562.7 L427.2,567.5 L429.3,571.9 L431.4,575.9 L433.5,579.5 L435.6,582.6 L437.7,585.5 L439.8,587.9 L442.0,590.1 L444.1,592.0 L446.2,593.7 L448.3,595.1 L450.4,596.4 L452.5,597.5 L454.6,598.4 L456.7,599.1 L458.8,599.8 L461.0,600.4 L463.1,600.8 L465.2,601.2 L467.3,601.5 L469.4,601.8 L471.5,602.1 L473.6,602.2 L475.7,602.4 L477.9,602.5 L480.0,602.6 L482.1,602.7 L484.2,602.8 L486.3,602.9" stroke="#B4545A"/>
<path d="M359.6,602.7 L361.7,602.7 L363.8,602.7 L365.9,602.7 L368.0,602.7 L370.2,602.7 L372.3,602.7 L374.4,602.7 L376.5,602.7 L378.6,602.7 L380.7,602.7 L381.8,602.7 L382.8,602.7 L383.9,589.2 L384.9,571.8 L386.0,552.4 L387.1,531.7 L388.1,509.8 L389.2,487.1 L390.2,462.1 L391.3,462.7 L392.3,463.9 L393.4,465.4 L395.5,469.4 L397.6,474.5 L399.7,480.4 L401.8,487.1 L403.9,494.2 L406.1,501.8 L408.2,509.4 L410.3,517.0 L412.4,524.5 L414.5,531.7 L416.6,538.6 L418.7,545.1 L420.8,551.2 L423.0,556.9 L425.1,562.1 L427.2,566.9 L429.3,571.3 L431.4,575.2 L433.5,578.8 L435.6,582.0 L437.7,584.8 L439.8,587.3 L442.0,589.5 L444.1,591.5 L446.2,593.2 L448.3,594.7 L450.4,595.9 L452.5,597.0 L454.6,598.0 L456.7,598.8 L458.8,599.5 L461.0,600.1 L463.1,600.6 L465.2,601.0 L467.3,601.4 L469.4,601.7 L471.5,601.9 L473.6,602.1 L475.7,602.3 L477.9,602.5 L480.0,602.6 L482.1,602.7 L484.2,602.8 L486.3,602.8" stroke="#E8A04A"/>
<path d="M359.6,602.7 L361.7,602.7 L363.8,602.7 L365.9,602.7 L368.0,602.7 L370.2,602.7 L372.3,602.7 L374.4,602.7 L376.5,602.7 L378.6,602.7 L380.7,602.7 L381.8,602.7 L382.8,602.7 L383.9,591.3 L384.9,576.4 L386.0,560.0 L387.1,542.4 L388.1,523.9 L389.2,504.6 L390.2,484.7 L391.3,462.6 L392.3,463.2 L393.4,464.4 L394.4,465.9 L396.6,469.9 L398.7,475.0 L400.8,480.9 L402.9,487.5 L405.0,494.6 L407.1,502.1 L409.2,509.7 L411.3,517.3 L413.4,524.8 L415.6,532.0 L417.7,538.8 L419.8,545.3 L421.9,551.4 L424.0,557.0 L426.1,562.2 L428.2,567.0 L430.3,571.4 L432.5,575.3 L434.6,578.9 L436.7,582.0 L438.8,584.9 L440.9,587.4 L443.0,589.6 L445.1,591.5 L447.2,593.2 L449.3,594.7 L451.5,596.0 L453.6,597.1 L455.7,598.0 L457.8,598.8 L459.9,599.5 L462.0,600.1 L464.1,600.6 L466.2,601.0 L468.4,601.4 L470.5,601.7 L472.6,601.9 L474.7,602.1 L476.8,602.3 L478.9,602.5 L481.0,602.6 L483.1,602.7 L485.2,602.8" stroke="#D2452A" stroke-width="1.6"/>
<path d="M359.6,601.6 L361.7,601.6 L363.8,601.6 L365.9,601.6 L368.0,601.6 L370.2,601.6 L372.3,601.6 L374.4,601.6 L376.5,601.6 L378.6,601.6 L380.7,601.6 L381.8,601.6 L382.8,601.6 L383.9,593.7 L384.9,583.5 L386.0,572.1 L387.1,559.9 L388.1,547.1 L389.2,533.8 L390.2,520.0 L391.3,504.2 L392.3,504.7 L393.4,505.5 L394.4,506.6 L396.6,509.5 L398.7,513.1 L400.8,517.5 L402.9,522.4 L405.0,527.8 L407.1,533.5 L409.2,539.3 L411.3,545.1 L413.4,550.7 L415.6,556.0 L417.7,561.1 L419.8,565.8 L421.9,570.1 L424.0,574.1 L426.1,577.7 L428.2,581.0 L430.3,583.9 L432.5,586.5 L434.6,588.8 L436.7,590.9 L438.8,592.6 L440.9,594.2 L443.0,595.5 L445.1,596.7 L447.2,597.7 L449.3,598.6 L451.5,599.3 L453.6,599.9 L455.7,600.4 L457.8,600.9 L459.9,601.2 L462.0,601.6 L464.1,601.8 L466.2,602.0 L468.4,602.2 L470.5,602.4 L472.6,602.5 L474.7,602.6 L476.8,602.7 L478.9,602.8 L481.0,602.8 L483.1,602.9 L485.2,602.9" stroke="#222" stroke-dasharray="2,1.5"/>
<path d="M359.6,603.2 L363.8,603.0 L368.0,602.8 L372.3,602.6 L376.5,602.4 L380.7,602.2 L384.9,602.1 L389.2,602.0 L393.4,601.8 L397.6,601.7 L401.8,601.7 L406.1,601.6 L410.3,601.6 L414.5,601.7 L418.7,601.7 L423.0,601.8 L427.2,601.9 L431.4,602.0 L435.6,602.2 L439.8,602.3 L444.1,602.5 L448.3,602.7 L452.5,602.9 L456.7,603.1 L461.0,603.3 L465.2,603.5 L469.4,603.7 L473.6,603.9 L477.9,604.1 L482.1,604.3 L486.3,604.4" stroke="#3E7D4A"/>
</g>
<g stroke="#111" stroke-width="1.6" fill="none"><path d="M359.6,446.8 V604.8 H486.3"/>
<line x1="354.5" y1="604.8" x2="359.6" y2="604.8"/>
<line x1="354.5" y1="552.1" x2="359.6" y2="552.1"/>
<line x1="354.5" y1="499.5" x2="359.6" y2="499.5"/>
<line x1="354.5" y1="446.8" x2="359.6" y2="446.8"/>
<line x1="359.6" y1="604.8" x2="359.6" y2="610"/>
<line x1="401.8" y1="604.8" x2="401.8" y2="610"/>
<line x1="444.1" y1="604.8" x2="444.1" y2="610"/>
<line x1="486.3" y1="604.8" x2="486.3" y2="610"/>
</g>
<g fill="#111" font-size="12.5">
<text x="352" y="609.3" text-anchor="end">0</text>
<text x="352" y="556.6" text-anchor="end">1</text>
<text x="352" y="504.0" text-anchor="end">2</text>
<text x="352" y="451.3" text-anchor="end">3</text>
<text x="359.6" y="625" text-anchor="middle">0</text>
<text x="401.8" y="625" text-anchor="middle">40</text>
<text x="444.1" y="625" text-anchor="middle">80</text>
<text x="486.3" y="625" text-anchor="middle">120</text>
<text x="424" y="644" text-anchor="middle" font-size="12.5">Time [s]</text>
<text transform="translate(337.5,525.5) rotate(-90)" text-anchor="middle" font-size="12">ΔF/F0</text>
<text x="327.5" y="438" font-size="16" font-weight="bold">A</text>
<text x="381" y="455" font-size="10" text-anchor="middle">BK</text>
<text x="381" y="463.5" font-size="10" text-anchor="middle">stim</text>
</g>
<line x1="381" y1="466" x2="381" y2="533" stroke="#111" stroke-width="1"/><path d="M377,531 L385,531 L381,541 Z" fill="#111"/>
<g font-size="8.6" fill="#222">
<line x1="425" y1="448.8" x2="442" y2="448.8" stroke="#B4545A" stroke-width="1.4"/>
<text x="452" y="451.8">A2-3</text>
<line x1="425" y1="456.9" x2="442" y2="456.9" stroke="#3E7D4A" stroke-width="1.4"/>
<text x="452" y="459.9">F1-2</text>
<line x1="425" y1="464.9" x2="442" y2="464.9" stroke="#E8A04A" stroke-width="1.4"/>
<text x="452" y="467.9">NEO0037</text>
<line x1="425" y1="473.0" x2="442" y2="473.0" stroke="#A8A052" stroke-width="1.4"/>
<text x="452" y="476.0">A2-2</text>
<line x1="425" y1="481.1" x2="442" y2="481.1" stroke="#5CB85C" stroke-width="1.4"/>
<text x="452" y="484.1">F1-1</text>
<line x1="425" y1="489.2" x2="442" y2="489.2" stroke="#8A4FB0" stroke-width="1.4"/>
<text x="452" y="492.2">G2-1</text>
<line x1="425" y1="497.2" x2="442" y2="497.2" stroke="#F08CB4" stroke-width="1.4"/>
<text x="452" y="500.2">G1-2</text>
<line x1="425" y1="505.3" x2="442" y2="505.3" stroke="#8C8CD8" stroke-width="1.4"/>
<text x="452" y="508.3">NEO0060</text>
<line x1="425" y1="513.4" x2="442" y2="513.4" stroke="#3CB4C8" stroke-width="1.4"/>
<text x="452" y="516.4">A1-7</text>
<line x1="425" y1="521.4" x2="442" y2="521.4" stroke="#D0408C" stroke-width="1.4"/>
<text x="452" y="524.4">G1-1</text>
<line x1="425" y1="529.5" x2="442" y2="529.5" stroke="#222" stroke-width="1.4" stroke-dasharray="2,1.5"/>
<text x="452" y="532.5">Control</text>
</g>
<!-- steps panel -->
<rect x="990.5" y="343.5" width="289" height="368" rx="48" fill="#F0F1F3" stroke="#C9C9C9" stroke-width="1"/>

<!-- dashed boxes -->
<g fill="none" stroke="#44546A" stroke-width="1" stroke-dasharray="3,2.5">
<rect x="537.5" y="192.5" width="156" height="294"/>
<rect x="719.5" y="192.5" width="155" height="292"/>
<rect x="895.5" y="172" width="156.5" height="164"/>
</g>
<g fill="none" stroke="#44546A" stroke-width="1.3" stroke-dasharray="4,3">
<rect x="1077.5" y="70.5" width="153" height="68"/>
<rect x="344.5" y="664.5" width="157" height="48"/>
</g>
<g stroke="#6B6560" stroke-width="2" stroke-dasharray="5,3">
<line x1="694" y1="334.5" x2="719" y2="334.5"/>
<line x1="875" y1="263.5" x2="895" y2="263.5"/>
</g>

<!-- ===== MICROSCOPE ===== -->
<g stroke="#8C8C8C" stroke-width="0.7" stroke-linejoin="round">
  <!-- pillar -->
  <path d="M673,478 L679,476 L707.5,517.6 L711,555.5 L718,564.5 L725.5,580.8 L738,674.7 L700,678 L690,585 L676.8,564.5 L698.4,548.3 L694.8,523 L673,490.5 Z" fill="#F4F4F4"/>
  <path d="M680,530 L694.8,523 L698.4,548.3 L676.8,564.5 Z" fill="#DADADA" stroke="none"/>
  <!-- lamp housing -->
  <path d="M624.4,490.5 L624.4,468 C624.4,458 630,448 640,445.4 L672,445.4 C676,445.4 678.6,448 678.6,452 L678.6,490.5 Z" fill="#F3F3F3"/>
  <path d="M646,445.4 L672,445.4 C676,445.4 678.6,448 678.6,452 L678.6,490.5 L646,490.5 Z" fill="#D5D5D5" stroke="none"/>
  <rect x="626.8" y="468.4" width="15.6" height="9.4" fill="#1D6BB9" stroke="none"/>
  <rect x="629" y="482" width="11" height="4" fill="#A8A8A8" stroke="none"/>
  <ellipse cx="683" cy="464.5" rx="5.5" ry="12" fill="#474747" stroke="none"/>
  <!-- condenser & stage -->
  <rect x="656" y="490.5" width="20" height="7" fill="#C8C8C8" stroke="none"/>
  <rect x="640.7" y="496" width="23.3" height="7" fill="#4A4A4A" stroke="none"/>
  <rect x="669.6" y="490.5" width="16.2" height="30.7" fill="#F6F6F6"/>
  <rect x="630" y="503" width="40" height="7" fill="#F6F6F6"/>
  <rect x="617" y="510.4" width="56" height="9" fill="#F7F7F7"/>
  <rect x="618.5" y="512.2" width="51" height="5.4" fill="#484848" stroke="none"/>
  <circle cx="685.8" cy="505" r="4.5" fill="#3C3C3C" stroke="none"/>
  <rect x="642.5" y="521" width="23.5" height="16.5" fill="#EAEAEA"/>
  <rect x="642.5" y="535.5" width="23.5" height="2.5" fill="#4A4A4A" stroke="none"/>
  <path d="M631,530 L666,538 L680,530 L676.8,564.5 L640,566 L631,566 Z" fill="#F1F1F1" stroke="none"/>
  <!-- head block -->
  <path d="M573,578 L573,533 C573,528 576,525 582,525 L624,525 C629,525 631.4,528 631.4,533 L631.4,578 Z" fill="#F5F5F5"/>
  <path d="M607.8,525 L624,525 C629,525 631.4,528 631.4,533 L631.4,578 L607.8,578 Z" fill="#D4D4D4" stroke="none"/>
  <!-- eyepieces -->
  <g stroke="none" stroke-linecap="round">
    <line x1="549" y1="523" x2="577" y2="548" stroke="#3A3A3A" stroke-width="11"/>
    <line x1="566" y1="524" x2="597" y2="549" stroke="#404040" stroke-width="15"/>
    <line x1="555" y1="529" x2="564" y2="537" stroke="#F4F4F4" stroke-width="9" stroke-linecap="butt"/>
    <line x1="572" y1="529" x2="582" y2="537" stroke="#F4F4F4" stroke-width="10" stroke-linecap="butt"/>
    <ellipse cx="548" cy="522" rx="7.5" ry="6.5" fill="#333" transform="rotate(-40 548 522)"/>
    <ellipse cx="564.7" cy="523" rx="7.5" ry="6.5" fill="#383838" transform="rotate(-40 564.7 523)"/>
    <ellipse cx="547" cy="520.5" rx="2.5" ry="2" fill="#777" transform="rotate(-40 547 520.5)"/>
    <ellipse cx="563.7" cy="521.5" rx="2.5" ry="2" fill="#777" transform="rotate(-40 563.7 521.5)"/>
  </g>
  <!-- base -->
  <path d="M567.5,580.5 L573,572 L640,566 L700,580 L738,674.7 L600,689.3 L575,686 L577,611 L567.5,600 Z" fill="#F7F7F7"/>
  <path d="M605,575 L628,571 L640,566 L638,600 L628.6,611 L598,611 Z" fill="#D8D8D8" stroke="none"/>
  <path d="M577,611 L628.6,611 L625,620 L580,622 Z" fill="#EFEFEF" stroke="none"/>
  <ellipse cx="594" cy="654" rx="10.5" ry="11" fill="none" stroke="#9A9A9A"/>
  <rect x="584" y="676" width="8.5" height="5.5" rx="1" fill="#6A6A6A" stroke="none"/>
  <rect x="586" y="587.5" width="10" height="8" rx="3" fill="#3A3A3A" stroke="none"/>
  <path d="M698,580 L725.5,580.8 L738,674.7 L712,677 Z" fill="#ECECEC" stroke="none"/>
  <!-- compartment -->
  <path d="M646,580.8 L698.4,580.8 L698.4,627.7 L646,627.7 Z" fill="#DCDCDC" stroke="none"/>
  <rect x="648" y="603" width="32" height="22" fill="#6A6A6A" stroke="none"/>
  <ellipse cx="662" cy="612" rx="10" ry="4.5" fill="#9C9C9C" stroke="none"/>
  <rect x="648" y="584" width="13" height="14" fill="#F2F2F2" stroke="none"/>
  <rect x="664" y="585" width="16" height="15" fill="#4A4A4A" stroke="none"/>
  <rect x="680" y="588" width="12" height="30" fill="#F4F4F4" stroke="none"/>
  <rect x="658" y="631" width="15" height="4" fill="#7A7A7A" stroke="none"/>
  <!-- stage bar -->
  <path d="M630,566 L712,567 L725.5,574 L725.5,580 L690,579 L650,582 L630,582 Z" fill="#474747" stroke="none"/>
  <circle cx="635.3" cy="573.6" r="9" fill="#3A3A3A" stroke="none"/>
  <!-- rod & label -->
  <rect x="693" y="580.8" width="5.4" height="66" fill="#3C3C3C" stroke="none"/>
  <rect x="690.5" y="644" width="9" height="16" fill="#F6F6F6"/>
  <path d="M699,591 L727,589 L729,619 L701,622 Z" fill="#585858" stroke="none"/>
  <!-- big knob -->
  <circle cx="657" cy="656.6" r="12.6" fill="#444" stroke="none"/>
  <circle cx="666" cy="659" r="7" fill="#555" stroke="#F3F3F3" stroke-width="1"/>
  <circle cx="675" cy="645.8" r="6" fill="none" stroke="#A0A0A0"/>
</g>

<clipPath id="scr"><rect x="754.6" y="470.1" width="231.9" height="132.7" rx="3"/></clipPath>
<rect x="746.2" y="460.4" width="249" height="152.8" rx="3" fill="#3D3D3D"/>
<rect x="754.6" y="470.1" width="231.9" height="132.7" rx="3" fill="#000"/>
<g clip-path="url(#scr)">
<g transform="translate(759.1,470.8) rotate(117) scale(0.89)"><path d="M0,-9 C4,-4 7,0 7,3.5 C7,7.5 3.5,9 0,9 C-3.5,9 -7,7.5 -7,3.5 C-7,0 -4,-4 0,-9 Z" fill="#1F9E2A" stroke="#8CF04A" stroke-width="1.4"/><circle cx="0" cy="3" r="3.8" fill="#2AA0F0"/></g>
<g transform="translate(776.5,476.0) rotate(234) scale(0.87)"><path d="M0,-9 C4,-4 7,0 7,3.5 C7,7.5 3.5,9 0,9 C-3.5,9 -7,7.5 -7,3.5 C-7,0 -4,-4 0,-9 Z" fill="#123A16" stroke="#2A5E2A" stroke-width="1.4"/><circle cx="0" cy="3" r="3.8" fill="#183866"/></g>
<g transform="translate(839.0,476.0) rotate(193) scale(0.94)"><path d="M0,-9 C4,-4 7,0 7,3.5 C7,7.5 3.5,9 0,9 C-3.5,9 -7,7.5 -7,3.5 C-7,0 -4,-4 0,-9 Z" fill="#1F9E2A" stroke="#8CF04A" stroke-width="1.4"/><circle cx="0" cy="3" r="3.8" fill="#2AA0F0"/></g>
<g transform="translate(870.2,476.0) rotate(21) scale(0.98)"><path d="M0,-9 C4,-4 7,0 7,3.5 C7,7.5 3.5,9 0,9 C-3.5,9 -7,7.5 -7,3.5 C-7,0 -4,-4 0,-9 Z" fill="#123A16" stroke="#2A5E2A" stroke-width="1.4"/><circle cx="0" cy="3" r="3.8" fill="#183866"/></g>
<g transform="translate(915.3,474.3) rotate(13) scale(0.96)"><path d="M0,-9 C4,-4 7,0 7,3.5 C7,7.5 3.5,9 0,9 C-3.5,9 -7,7.5 -7,3.5 C-7,0 -4,-4 0,-9 Z" fill="#1F9E2A" stroke="#8CF04A" stroke-width="1.4"/><circle cx="0" cy="3" r="3.8" fill="#2AA0F0"/></g>
<g transform="translate(970.9,476.0) rotate(25) scale(0.87)"><path d="M0,-9 C4,-4 7,0 7,3.5 C7,7.5 3.5,9 0,9 C-3.5,9 -7,7.5 -7,3.5 C-7,0 -4,-4 0,-9 Z" fill="#1F9E2A" stroke="#8CF04A" stroke-width="1.4"/><circle cx="0" cy="3" r="3.8" fill="#2AA0F0"/></g>
<g transform="translate(757.4,486.5) rotate(153) scale(1.06)"><path d="M0,-9 C4,-4 7,0 7,3.5 C7,7.5 3.5,9 0,9 C-3.5,9 -7,7.5 -7,3.5 C-7,0 -4,-4 0,-9 Z" fill="#1F9E2A" stroke="#8CF04A" stroke-width="1.4"/><circle cx="0" cy="3" r="3.8" fill="#2AA0F0"/></g>
<g transform="translate(776.5,496.9) rotate(45) scale(0.91)"><path d="M0,-9 C4,-4 7,0 7,3.5 C7,7.5 3.5,9 0,9 C-3.5,9 -7,7.5 -7,3.5 C-7,0 -4,-4 0,-9 Z" fill="#1F9E2A" stroke="#8CF04A" stroke-width="1.4"/><circle cx="0" cy="3" r="3.8" fill="#2AA0F0"/></g>
<g transform="translate(800.8,498.6) rotate(226) scale(1.09)"><path d="M0,-9 C4,-4 7,0 7,3.5 C7,7.5 3.5,9 0,9 C-3.5,9 -7,7.5 -7,3.5 C-7,0 -4,-4 0,-9 Z" fill="#123A16" stroke="#2A5E2A" stroke-width="1.4"/><circle cx="0" cy="3" r="3.8" fill="#183866"/></g>
<g transform="translate(822.6,493.4) rotate(208) scale(0.95)"><path d="M0,-9 C4,-4 7,0 7,3.5 C7,7.5 3.5,9 0,9 C-3.5,9 -7,7.5 -7,3.5 C-7,0 -4,-4 0,-9 Z" fill="#1F9E2A" stroke="#8CF04A" stroke-width="1.4"/><circle cx="0" cy="3" r="3.8" fill="#2AA0F0"/></g>
<g transform="translate(854.6,505.6) rotate(351) scale(0.86)"><path d="M0,-9 C4,-4 7,0 7,3.5 C7,7.5 3.5,9 0,9 C-3.5,9 -7,7.5 -7,3.5 C-7,0 -4,-4 0,-9 Z" fill="#1F9E2A" stroke="#8CF04A" stroke-width="1.4"/><circle cx="0" cy="3" r="3.8" fill="#2AA0F0"/></g>
<g transform="translate(892.1,491.7) rotate(309) scale(0.92)"><path d="M0,-9 C4,-4 7,0 7,3.5 C7,7.5 3.5,9 0,9 C-3.5,9 -7,7.5 -7,3.5 C-7,0 -4,-4 0,-9 Z" fill="#123A16" stroke="#2A5E2A" stroke-width="1.4"/><circle cx="0" cy="3" r="3.8" fill="#183866"/></g>
<g transform="translate(924.0,489.9) rotate(52) scale(0.88)"><path d="M0,-9 C4,-4 7,0 7,3.5 C7,7.5 3.5,9 0,9 C-3.5,9 -7,7.5 -7,3.5 C-7,0 -4,-4 0,-9 Z" fill="#123A16" stroke="#2A5E2A" stroke-width="1.4"/><circle cx="0" cy="3" r="3.8" fill="#183866"/></g>
<g transform="translate(944.9,502.1) rotate(111) scale(1.05)"><path d="M0,-9 C4,-4 7,0 7,3.5 C7,7.5 3.5,9 0,9 C-3.5,9 -7,7.5 -7,3.5 C-7,0 -4,-4 0,-9 Z" fill="#1F9E2A" stroke="#8CF04A" stroke-width="1.4"/><circle cx="0" cy="3" r="3.8" fill="#2AA0F0"/></g>
<g transform="translate(976.1,503.8) rotate(65) scale(1.00)"><path d="M0,-9 C4,-4 7,0 7,3.5 C7,7.5 3.5,9 0,9 C-3.5,9 -7,7.5 -7,3.5 C-7,0 -4,-4 0,-9 Z" fill="#123A16" stroke="#2A5E2A" stroke-width="1.4"/><circle cx="0" cy="3" r="3.8" fill="#183866"/></g>
<g transform="translate(788.6,512.5) rotate(230) scale(0.94)"><path d="M0,-9 C4,-4 7,0 7,3.5 C7,7.5 3.5,9 0,9 C-3.5,9 -7,7.5 -7,3.5 C-7,0 -4,-4 0,-9 Z" fill="#1F9E2A" stroke="#8CF04A" stroke-width="1.4"/><circle cx="0" cy="3" r="3.8" fill="#2AA0F0"/></g>
<g transform="translate(799.0,528.1) rotate(197) scale(0.87)"><path d="M0,-9 C4,-4 7,0 7,3.5 C7,7.5 3.5,9 0,9 C-3.5,9 -7,7.5 -7,3.5 C-7,0 -4,-4 0,-9 Z" fill="#123A16" stroke="#2A5E2A" stroke-width="1.4"/><circle cx="0" cy="3" r="3.8" fill="#183866"/></g>
<g transform="translate(823.3,531.6) rotate(21) scale(0.90)"><path d="M0,-9 C4,-4 7,0 7,3.5 C7,7.5 3.5,9 0,9 C-3.5,9 -7,7.5 -7,3.5 C-7,0 -4,-4 0,-9 Z" fill="#1F9E2A" stroke="#8CF04A" stroke-width="1.4"/><circle cx="0" cy="3" r="3.8" fill="#2AA0F0"/></g>
<g transform="translate(859.8,526.4) rotate(245) scale(0.96)"><path d="M0,-9 C4,-4 7,0 7,3.5 C7,7.5 3.5,9 0,9 C-3.5,9 -7,7.5 -7,3.5 C-7,0 -4,-4 0,-9 Z" fill="#1F9E2A" stroke="#8CF04A" stroke-width="1.4"/><circle cx="0" cy="3" r="3.8" fill="#2AA0F0"/></g>
<g transform="translate(884.1,509.0) rotate(113) scale(1.00)"><path d="M0,-9 C4,-4 7,0 7,3.5 C7,7.5 3.5,9 0,9 C-3.5,9 -7,7.5 -7,3.5 C-7,0 -4,-4 0,-9 Z" fill="#1F9E2A" stroke="#8CF04A" stroke-width="1.4"/><circle cx="0" cy="3" r="3.8" fill="#2AA0F0"/></g>
<g transform="translate(900.4,522.9) rotate(163) scale(0.92)"><path d="M0,-9 C4,-4 7,0 7,3.5 C7,7.5 3.5,9 0,9 C-3.5,9 -7,7.5 -7,3.5 C-7,0 -4,-4 0,-9 Z" fill="#123A16" stroke="#2A5E2A" stroke-width="1.4"/><circle cx="0" cy="3" r="3.8" fill="#183866"/></g>
<g transform="translate(923.0,516.0) rotate(286) scale(1.02)"><path d="M0,-9 C4,-4 7,0 7,3.5 C7,7.5 3.5,9 0,9 C-3.5,9 -7,7.5 -7,3.5 C-7,0 -4,-4 0,-9 Z" fill="#1F9E2A" stroke="#8CF04A" stroke-width="1.4"/><circle cx="0" cy="3" r="3.8" fill="#2AA0F0"/></g>
<g transform="translate(958.8,533.3) rotate(88) scale(0.99)"><path d="M0,-9 C4,-4 7,0 7,3.5 C7,7.5 3.5,9 0,9 C-3.5,9 -7,7.5 -7,3.5 C-7,0 -4,-4 0,-9 Z" fill="#1F9E2A" stroke="#8CF04A" stroke-width="1.4"/><circle cx="0" cy="3" r="3.8" fill="#2AA0F0"/></g>
<g transform="translate(979.6,526.4) rotate(189) scale(1.07)"><path d="M0,-9 C4,-4 7,0 7,3.5 C7,7.5 3.5,9 0,9 C-3.5,9 -7,7.5 -7,3.5 C-7,0 -4,-4 0,-9 Z" fill="#1F9E2A" stroke="#8CF04A" stroke-width="1.4"/><circle cx="0" cy="3" r="3.8" fill="#2AA0F0"/></g>
<g transform="translate(776.5,542.0) rotate(263) scale(0.92)"><path d="M0,-9 C4,-4 7,0 7,3.5 C7,7.5 3.5,9 0,9 C-3.5,9 -7,7.5 -7,3.5 C-7,0 -4,-4 0,-9 Z" fill="#123A16" stroke="#2A5E2A" stroke-width="1.4"/><circle cx="0" cy="3" r="3.8" fill="#183866"/></g>
<g transform="translate(842.4,543.1) rotate(353) scale(0.88)"><path d="M0,-9 C4,-4 7,0 7,3.5 C7,7.5 3.5,9 0,9 C-3.5,9 -7,7.5 -7,3.5 C-7,0 -4,-4 0,-9 Z" fill="#1F9E2A" stroke="#8CF04A" stroke-width="1.4"/><circle cx="0" cy="3" r="3.8" fill="#2AA0F0"/></g>
<g transform="translate(871.9,549.0) rotate(151) scale(1.04)"><path d="M0,-9 C4,-4 7,0 7,3.5 C7,7.5 3.5,9 0,9 C-3.5,9 -7,7.5 -7,3.5 C-7,0 -4,-4 0,-9 Z" fill="#123A16" stroke="#2A5E2A" stroke-width="1.4"/><circle cx="0" cy="3" r="3.8" fill="#183866"/></g>
<g transform="translate(894.5,545.5) rotate(55) scale(0.97)"><path d="M0,-9 C4,-4 7,0 7,3.5 C7,7.5 3.5,9 0,9 C-3.5,9 -7,7.5 -7,3.5 C-7,0 -4,-4 0,-9 Z" fill="#1F9E2A" stroke="#8CF04A" stroke-width="1.4"/><circle cx="0" cy="3" r="3.8" fill="#2AA0F0"/></g>
<g transform="translate(920.6,545.5) rotate(14) scale(1.02)"><path d="M0,-9 C4,-4 7,0 7,3.5 C7,7.5 3.5,9 0,9 C-3.5,9 -7,7.5 -7,3.5 C-7,0 -4,-4 0,-9 Z" fill="#1F9E2A" stroke="#8CF04A" stroke-width="1.4"/><circle cx="0" cy="3" r="3.8" fill="#2AA0F0"/></g>
<g transform="translate(972.6,554.2) rotate(275) scale(0.99)"><path d="M0,-9 C4,-4 7,0 7,3.5 C7,7.5 3.5,9 0,9 C-3.5,9 -7,7.5 -7,3.5 C-7,0 -4,-4 0,-9 Z" fill="#123A16" stroke="#2A5E2A" stroke-width="1.4"/><circle cx="0" cy="3" r="3.8" fill="#183866"/></g>
<g transform="translate(759.1,561.1) rotate(315) scale(0.93)"><path d="M0,-9 C4,-4 7,0 7,3.5 C7,7.5 3.5,9 0,9 C-3.5,9 -7,7.5 -7,3.5 C-7,0 -4,-4 0,-9 Z" fill="#1F9E2A" stroke="#8CF04A" stroke-width="1.4"/><circle cx="0" cy="3" r="3.8" fill="#2AA0F0"/></g>
<g transform="translate(791.4,554.9) rotate(250) scale(1.00)"><path d="M0,-9 C4,-4 7,0 7,3.5 C7,7.5 3.5,9 0,9 C-3.5,9 -7,7.5 -7,3.5 C-7,0 -4,-4 0,-9 Z" fill="#1F9E2A" stroke="#8CF04A" stroke-width="1.4"/><circle cx="0" cy="3" r="3.8" fill="#2AA0F0"/></g>
<g transform="translate(819.9,557.6) rotate(209) scale(0.96)"><path d="M0,-9 C4,-4 7,0 7,3.5 C7,7.5 3.5,9 0,9 C-3.5,9 -7,7.5 -7,3.5 C-7,0 -4,-4 0,-9 Z" fill="#1F9E2A" stroke="#8CF04A" stroke-width="1.4"/><circle cx="0" cy="3" r="3.8" fill="#2AA0F0"/></g>
<g transform="translate(852.8,564.6) rotate(302) scale(1.09)"><path d="M0,-9 C4,-4 7,0 7,3.5 C7,7.5 3.5,9 0,9 C-3.5,9 -7,7.5 -7,3.5 C-7,0 -4,-4 0,-9 Z" fill="#123A16" stroke="#2A5E2A" stroke-width="1.4"/><circle cx="0" cy="3" r="3.8" fill="#183866"/></g>
<g transform="translate(880.6,567.4) rotate(171) scale(1.02)"><path d="M0,-9 C4,-4 7,0 7,3.5 C7,7.5 3.5,9 0,9 C-3.5,9 -7,7.5 -7,3.5 C-7,0 -4,-4 0,-9 Z" fill="#1F9E2A" stroke="#8CF04A" stroke-width="1.4"/><circle cx="0" cy="3" r="3.8" fill="#2AA0F0"/></g>
<g transform="translate(911.9,567.4) rotate(22) scale(1.03)"><path d="M0,-9 C4,-4 7,0 7,3.5 C7,7.5 3.5,9 0,9 C-3.5,9 -7,7.5 -7,3.5 C-7,0 -4,-4 0,-9 Z" fill="#1F9E2A" stroke="#8CF04A" stroke-width="1.4"/><circle cx="0" cy="3" r="3.8" fill="#2AA0F0"/></g>
<g transform="translate(950.1,562.8) rotate(233) scale(1.10)"><path d="M0,-9 C4,-4 7,0 7,3.5 C7,7.5 3.5,9 0,9 C-3.5,9 -7,7.5 -7,3.5 C-7,0 -4,-4 0,-9 Z" fill="#1F9E2A" stroke="#8CF04A" stroke-width="1.4"/><circle cx="0" cy="3" r="3.8" fill="#2AA0F0"/></g>
<g transform="translate(965.0,573.3) rotate(296) scale(0.92)"><path d="M0,-9 C4,-4 7,0 7,3.5 C7,7.5 3.5,9 0,9 C-3.5,9 -7,7.5 -7,3.5 C-7,0 -4,-4 0,-9 Z" fill="#1F9E2A" stroke="#8CF04A" stroke-width="1.4"/><circle cx="0" cy="3" r="3.8" fill="#2AA0F0"/></g>
<g transform="translate(783.4,573.3) rotate(139) scale(1.02)"><path d="M0,-9 C4,-4 7,0 7,3.5 C7,7.5 3.5,9 0,9 C-3.5,9 -7,7.5 -7,3.5 C-7,0 -4,-4 0,-9 Z" fill="#123A16" stroke="#2A5E2A" stroke-width="1.4"/><circle cx="0" cy="3" r="3.8" fill="#183866"/></g>
<g transform="translate(812.9,585.4) rotate(8) scale(0.97)"><path d="M0,-9 C4,-4 7,0 7,3.5 C7,7.5 3.5,9 0,9 C-3.5,9 -7,7.5 -7,3.5 C-7,0 -4,-4 0,-9 Z" fill="#123A16" stroke="#2A5E2A" stroke-width="1.4"/><circle cx="0" cy="3" r="3.8" fill="#183866"/></g>
<g transform="translate(889.3,583.7) rotate(60) scale(0.88)"><path d="M0,-9 C4,-4 7,0 7,3.5 C7,7.5 3.5,9 0,9 C-3.5,9 -7,7.5 -7,3.5 C-7,0 -4,-4 0,-9 Z" fill="#123A16" stroke="#2A5E2A" stroke-width="1.4"/><circle cx="0" cy="3" r="3.8" fill="#183866"/></g>
<g transform="translate(939.7,576.7) rotate(21) scale(1.04)"><path d="M0,-9 C4,-4 7,0 7,3.5 C7,7.5 3.5,9 0,9 C-3.5,9 -7,7.5 -7,3.5 C-7,0 -4,-4 0,-9 Z" fill="#123A16" stroke="#2A5E2A" stroke-width="1.4"/><circle cx="0" cy="3" r="3.8" fill="#183866"/></g>
<g transform="translate(964.0,588.9) rotate(47) scale(0.91)"><path d="M0,-9 C4,-4 7,0 7,3.5 C7,7.5 3.5,9 0,9 C-3.5,9 -7,7.5 -7,3.5 C-7,0 -4,-4 0,-9 Z" fill="#1F9E2A" stroke="#8CF04A" stroke-width="1.4"/><circle cx="0" cy="3" r="3.8" fill="#2AA0F0"/></g>
<g transform="translate(762.6,597.6) rotate(141) scale(1.07)"><path d="M0,-9 C4,-4 7,0 7,3.5 C7,7.5 3.5,9 0,9 C-3.5,9 -7,7.5 -7,3.5 C-7,0 -4,-4 0,-9 Z" fill="#1F9E2A" stroke="#8CF04A" stroke-width="1.4"/><circle cx="0" cy="3" r="3.8" fill="#2AA0F0"/></g>
<g transform="translate(792.1,595.8) rotate(29) scale(0.96)"><path d="M0,-9 C4,-4 7,0 7,3.5 C7,7.5 3.5,9 0,9 C-3.5,9 -7,7.5 -7,3.5 C-7,0 -4,-4 0,-9 Z" fill="#1F9E2A" stroke="#8CF04A" stroke-width="1.4"/><circle cx="0" cy="3" r="3.8" fill="#2AA0F0"/></g>
<g transform="translate(842.4,597.6) rotate(198) scale(1.07)"><path d="M0,-9 C4,-4 7,0 7,3.5 C7,7.5 3.5,9 0,9 C-3.5,9 -7,7.5 -7,3.5 C-7,0 -4,-4 0,-9 Z" fill="#123A16" stroke="#2A5E2A" stroke-width="1.4"/><circle cx="0" cy="3" r="3.8" fill="#183866"/></g>
<g transform="translate(865.0,597.6) rotate(295) scale(1.07)"><path d="M0,-9 C4,-4 7,0 7,3.5 C7,7.5 3.5,9 0,9 C-3.5,9 -7,7.5 -7,3.5 C-7,0 -4,-4 0,-9 Z" fill="#1F9E2A" stroke="#8CF04A" stroke-width="1.4"/><circle cx="0" cy="3" r="3.8" fill="#2AA0F0"/></g>
<g transform="translate(889.3,601.0) rotate(100) scale(0.95)"><path d="M0,-9 C4,-4 7,0 7,3.5 C7,7.5 3.5,9 0,9 C-3.5,9 -7,7.5 -7,3.5 C-7,0 -4,-4 0,-9 Z" fill="#1F9E2A" stroke="#8CF04A" stroke-width="1.4"/><circle cx="0" cy="3" r="3.8" fill="#2AA0F0"/></g>
<g transform="translate(913.6,598.6) rotate(129) scale(1.07)"><path d="M0,-9 C4,-4 7,0 7,3.5 C7,7.5 3.5,9 0,9 C-3.5,9 -7,7.5 -7,3.5 C-7,0 -4,-4 0,-9 Z" fill="#1F9E2A" stroke="#8CF04A" stroke-width="1.4"/><circle cx="0" cy="3" r="3.8" fill="#2AA0F0"/></g>
<g transform="translate(944.9,601.0) rotate(345) scale(0.89)"><path d="M0,-9 C4,-4 7,0 7,3.5 C7,7.5 3.5,9 0,9 C-3.5,9 -7,7.5 -7,3.5 C-7,0 -4,-4 0,-9 Z" fill="#1F9E2A" stroke="#8CF04A" stroke-width="1.4"/><circle cx="0" cy="3" r="3.8" fill="#2AA0F0"/></g>
<g transform="translate(974.4,601.0) rotate(63) scale(0.91)"><path d="M0,-9 C4,-4 7,0 7,3.5 C7,7.5 3.5,9 0,9 C-3.5,9 -7,7.5 -7,3.5 C-7,0 -4,-4 0,-9 Z" fill="#1F9E2A" stroke="#8CF04A" stroke-width="1.4"/><circle cx="0" cy="3" r="3.8" fill="#2AA0F0"/></g>
</g>
<rect x="856.3" y="613" width="22.6" height="31.4" fill="#3D3D3D"/>
<path d="M840.7,644.4 L892.8,644.4 L906,657 L823,657 Z" fill="#585858"/>
<rect x="823" y="657" width="83" height="4.5" rx="1.5" fill="#3D3D3D"/>
<!-- texts -->
<g class="t" font-size="14" font-weight="bold" font-style="italic">
<text x="1087.5" y="90.5" textLength="63.7" lengthAdjust="spacingAndGlyphs">Propriétés</text>
<text x="1087.5" y="109.3" textLength="124.5" lengthAdjust="spacingAndGlyphs">antihyperalgésiques</text>
<text x="1087.5" y="128.6" textLength="45.7" lengthAdjust="spacingAndGlyphs">du F1-2</text>
</g>

<g class="t" font-size="19.5">
<text x="552.5" y="113.8" textLength="69.5" lengthAdjust="spacingAndGlyphs">DSS 0,5%</text>
<text x="724.7" y="112.6" textLength="34.3" lengthAdjust="spacingAndGlyphs">SII-PI</text>
<text x="882" y="111.8" textLength="34" lengthAdjust="spacingAndGlyphs">NMS</text>
</g>

<text class="t" x="550.8" y="170" font-size="19" font-style="italic" textLength="191.6" lengthAdjust="spacingAndGlyphs">Étude par imagerie calcique</text>

<g class="t ctr" font-size="16" transform="translate(613,0) scale(0.83,1)" style="white-space:pre">
<text x="0" y="260.8" xml:space="preserve"><tspan font-weight="bold">F1-2</tspan> diminue le niveau</text>
<text x="0" y="285.8" xml:space="preserve">d'activation des</text>
<text x="0" y="310.8" xml:space="preserve">neurones de DRG de</text>
<text x="0" y="335.8" xml:space="preserve">souris en culture</text>
<text x="0" y="360.8" xml:space="preserve">stimulée par des</text>
<text x="0" y="385.8" xml:space="preserve"><tspan font-weight="bold">substances algogènes</tspan></text>
<text x="0" y="410.8" xml:space="preserve">(capsaïcine ou soupe</text>
<text x="0" y="435.8" xml:space="preserve">inflammatoire)</text>
</g>
<g class="t ctr" font-size="16" transform="translate(796,0) scale(0.83,1)" style="white-space:pre">
<text x="0" y="247.8" xml:space="preserve"><tspan font-weight="bold">F1-2</tspan> diminue le niveau</text>
<text x="0" y="272.8" xml:space="preserve">d'activation des</text>
<text x="0" y="297.8" xml:space="preserve"><tspan font-weight="bold">nocicepteurs</tspan></text>
<text x="0" y="322.8" xml:space="preserve">(Nav1.8+) chez la</text>
<text x="0" y="347.8" xml:space="preserve">souris stimulée par la</text>
<text x="0" y="372.8" xml:space="preserve">capsaïcine ou la soupe</text>
<text x="0" y="397.8" xml:space="preserve">inflammatoire</text>
</g>
<g class="t ctr" font-size="16" transform="translate(974.2,0) scale(0.83,1)" style="white-space:pre">
<text x="0" y="205.2" xml:space="preserve">L’effet neuroinhibiteur</text>
<text x="0" y="233.6" xml:space="preserve">de la souche F1-2</text>
<text x="0" y="262.1" xml:space="preserve">impliquerait la</text>
<text x="0" y="290.5" xml:space="preserve"><tspan font-weight="bold">bradykinine</tspan> ou un de</text>
<text x="0" y="319" xml:space="preserve">ses récepteurs</text>
</g>

<text class="t" x="1061.3" y="336" font-size="18" font-weight="bold" textLength="127.5" lengthAdjust="spacingAndGlyphs">Étapes de l’étude</text>

<g class="t" font-size="15">
<text x="1048" y="381.8" textLength="147.5" lengthAdjust="spacingAndGlyphs">Isolement de 10 souches</text>
<text x="1048" y="400.5" textLength="215" lengthAdjust="spacingAndGlyphs">bactériennes du microbiote intestinal</text>
<text x="1048.3" y="439.5" textLength="217.5" lengthAdjust="spacingAndGlyphs">Criblage de 10 souches bactériennes</text>
<text x="1048.3" y="458.3" textLength="195.5" lengthAdjust="spacingAndGlyphs">par « imagerie calcique globale»:</text>
<text x="1069.5" y="477" textLength="163" lengthAdjust="spacingAndGlyphs">Sélection de la souche F1-2</text>
<text x="1048.3" y="521.3" textLength="192.5" lengthAdjust="spacingAndGlyphs">Traitement F1-2 dans 3 modèles</text>
<text x="1048.3" y="540" textLength="193.7" lengthAdjust="spacingAndGlyphs">murins d’hypersensibilité colique:</text>
<text x="1069.5" y="559.3" textLength="181.7" lengthAdjust="spacingAndGlyphs">Propriétés antihyperalgésiques</text>
<text x="1048.3" y="578" textLength="43.7" lengthAdjust="spacingAndGlyphs">du F1-2</text>
<text x="1049.3" y="609.3" textLength="189" lengthAdjust="spacingAndGlyphs">Interaction entre F1-2 et cellules</text>
<text x="1049.3" y="628.3" textLength="213.2" lengthAdjust="spacingAndGlyphs">neuronales par approche d’imagerie</text>
<text x="1049.3" y="647.5" textLength="126.2" lengthAdjust="spacingAndGlyphs">calcique unicellulaire:</text>
<text x="1070" y="666.5" textLength="136.7" lengthAdjust="spacingAndGlyphs">F1-2 exerce un effet de</text>
<text x="1049.3" y="685.5" textLength="207" lengthAdjust="spacingAndGlyphs">neuroinhibition sur les nocicepteurs</text>
</g>
<g fill="#44546A">
<path d="M1049,470.5 h7 v-4 l7.5,6 l-7.5,6 v-4 h-7 z"/>
<path d="M1049,552.8 h7 v-4 l7.5,6 l-7.5,6 v-4 h-7 z"/>
<path d="M1050,660 h7 v-4 l7.5,6 l-7.5,6 v-4 h-7 z"/>
</g>

<text class="t" x="796.6" y="682.4" font-size="15.5" font-style="italic" textLength="126.7" lengthAdjust="spacingAndGlyphs">Ratio Fluo (340/380nm)</text>

<text class="t ctr" x="422.8" y="683.6" font-size="15.3" font-weight="bold" font-style="italic" textLength="96.5" lengthAdjust="spacingAndGlyphs">Neuroinhibition</text>
<text class="t ctr" x="423.3" y="702.9" font-size="15.3" font-style="italic" textLength="103.5" lengthAdjust="spacingAndGlyphs">de la souche F1-2</text>

<g class="t ctr" font-size="16">
<text x="233" y="368.3" textLength="89.3" lengthAdjust="spacingAndGlyphs">Lignée cellulaire</text>
<text x="232.5" y="386.6" textLength="121.5" lengthAdjust="spacingAndGlyphs">immortalisée (<tspan font-weight="bold">ND7/23</tspan>)</text>
<text x="232.5" y="404" textLength="13.9" lengthAdjust="spacingAndGlyphs">ou</text>
<text x="232.5" y="421.3" textLength="97" lengthAdjust="spacingAndGlyphs">neurones de DRG</text>
<text x="232.5" y="438.7" textLength="89" lengthAdjust="spacingAndGlyphs">de rat en culture</text>
</g>

<!-- numbered circles -->
<g>
<circle cx="221.3" cy="270.8" r="17" fill="#AEAAAA"/><text class="num" x="221.3" y="278.5">1</text>
<circle cx="168.5" cy="441.7" r="17" fill="#AEAAAA"/><text class="num" x="168.5" y="449.4">2</text>
<circle cx="407.5" cy="96.7" r="17" fill="#AEAAAA"/><text class="num" x="407.5" y="104.4">3</text>
<circle cx="518" cy="178.6" r="17" fill="#AEAAAA"/><text class="num" x="518" y="186.3">4</text>
<circle cx="1021.8" cy="383" r="17" fill="#AEAAAA"/><text class="num" x="1021.8" y="390.7">1</text>
<circle cx="1021.3" cy="453.8" r="17" fill="#AEAAAA"/><text class="num" x="1021.3" y="461.5">2</text>
<circle cx="1021.3" cy="540.5" r="17" fill="#AEAAAA"/><text class="num" x="1021.3" y="548.2">3</text>
<circle cx="1024.5" cy="631.8" r="17" fill="#AEAAAA"/><text class="num" x="1024.5" y="639.5">4</text>
</g>

</svg>
</body></html>
